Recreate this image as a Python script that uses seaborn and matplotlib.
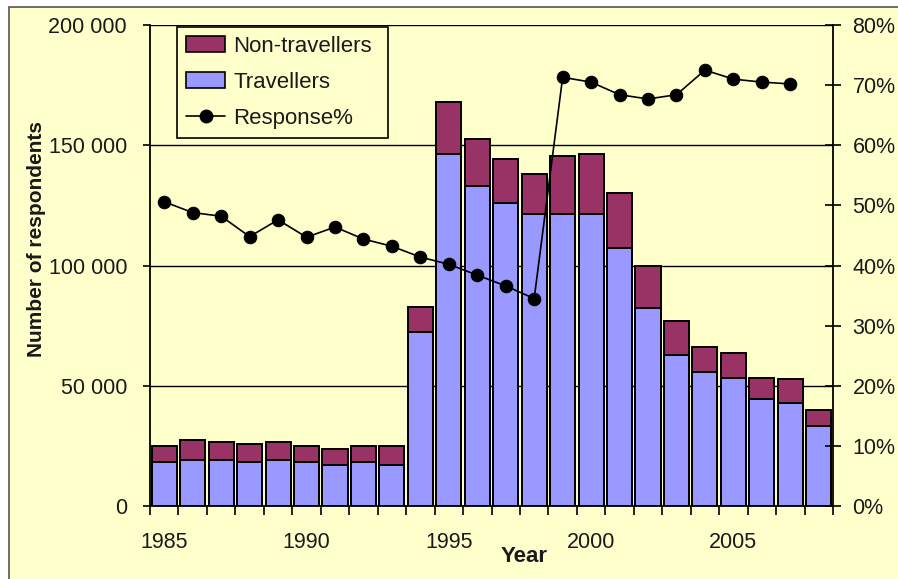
import numpy as np
import pandas as pd
import matplotlib
matplotlib.use("Agg")
import matplotlib.pyplot as plt
from matplotlib.patches import Rectangle, Patch
from matplotlib.lines import Line2D
import seaborn as sns

years = list(range(1985, 2009))
travellers = [18400, 19100, 19100, 18400, 19100, 18400, 17000, 18400, 17000,
              72500, 146400, 133100, 125900, 121300, 121400, 121400, 107300,
              82200, 62900, 55600, 53100, 44400, 43000, 33300]
totals = [25100, 27400, 26700, 25900, 26700, 25100, 23700, 25100, 25100,
          82900, 167900, 152500, 144100, 138100, 145500, 146400, 130300,
          99800, 77100, 66000, 63500, 53100, 52700, 39900]
response_years = list(range(1985, 2008))
response_pct = [50.6, 48.8, 48.2, 44.8, 47.6, 44.7, 46.4, 44.4, 43.2, 41.4,
                40.2, 38.4, 36.6, 34.5, 71.3, 70.5, 68.4, 67.7, 68.4, 72.5,
                71.0, 70.5, 70.2]
left_ticks = [0, 50000, 100000, 150000, 200000]
left_tick_labels = ["0", "50 000", "100 000", "150 000", "200 000"]
right_ticks = [0, 10, 20, 30, 40, 50, 60, 70, 80]
right_tick_labels = ["0%", "10%", "20%", "30%", "40%", "50%", "60%", "70%", "80%"]
labelled_years = [1985, 1990, 1995, 2000, 2005]

BG = "#FFFFCC"
TRAV = "#9999FF"
NONTRAV = "#993366"
TXT = "#1a1a1a"
TICKFS = 15.5

sns.set_style("white")
plt.rcParams["font.family"] = ["Liberation Sans", "DejaVu Sans"]

fig = plt.figure(figsize=(8.98, 5.79), dpi=100)
fig.patch.set_facecolor("white")
fig.patches.append(Rectangle((9 / 898, -0.05), 1.1, (579 - 7) / 579 + 0.05,
                             transform=fig.transFigure, facecolor=BG,
                             edgecolor="#555555", linewidth=1.2, zorder=-10))

ax = fig.add_axes([150 / 898, 1 - 506 / 579, (833 - 150) / 898, (506 - 25) / 579])
ax.set_facecolor(BG)

df = pd.DataFrame({"year": [str(y) for y in years], "trav": travellers, "tot": totals})
order = [str(y) for y in years]
sns.barplot(data=df, x="year", y="tot", order=order, color=NONTRAV, width=0.88,
            edgecolor="black", linewidth=1.4, saturation=1, ax=ax, zorder=2)
sns.barplot(data=df, x="year", y="trav", order=order, color=TRAV, width=0.88,
            edgecolor="black", linewidth=1.4, saturation=1, ax=ax, zorder=3)

ax.set_xlim(-0.5, len(years) - 0.5)
ax.set_ylim(0, 200000)
ax.set_yticks(left_ticks)
ax.set_yticklabels(left_tick_labels)
ax.yaxis.grid(True, color="black", linewidth=1.0)
ax.set_axisbelow(True)

# x ticks: marks at category boundaries, labels at selected category centres
ax.set_xticks(np.arange(len(years) + 1) - 0.5)
ax.set_xticklabels([])
lab_pos = [years.index(y) for y in labelled_years]
ax.set_xticks(lab_pos, minor=True)
ax.set_xticklabels([str(y) for y in labelled_years], minor=True)
ax.tick_params(axis="x", which="major", length=6.5, width=1.2, color="black",
               direction="out", bottom=True)
ax.tick_params(axis="x", which="minor", length=0, pad=19, labelsize=TICKFS, labelcolor=TXT)
ax.tick_params(axis="y", length=5, width=1.2, color="black", direction="out",
               pad=11.5, labelsize=TICKFS, labelcolor=TXT, left=True)

for s in ["left", "bottom"]:
    ax.spines[s].set_color("black")
    ax.spines[s].set_linewidth(1.3)
ax.spines["top"].set_visible(False)
ax.spines["right"].set_visible(False)

ax.set_xlabel("Year", fontsize=16, fontweight="bold", color=TXT)
ax.xaxis.set_label_coords(0.548, -0.083)
ax.set_ylabel("Number of respondents", fontsize=15, fontweight="bold", color=TXT)
ax.yaxis.set_label_coords(-0.152, 0.555)

ax2 = ax.twinx()
rpos = [years.index(y) for y in response_years]
sns.lineplot(x=rpos, y=response_pct, ax=ax2, color="black", linewidth=1.2,
             marker="o", markersize=9, markeredgecolor="black", zorder=5)
ax2.set_ylim(0, 80)
ax2.set_xlim(-0.5, len(years) - 0.5)
ax2.set_yticks(right_ticks)
ax2.set_yticklabels(right_tick_labels)
ax2.tick_params(axis="y", length=12, width=1.2, color="black", direction="inout",
                pad=8, labelsize=TICKFS, labelcolor=TXT, right=True)
for s in ["left", "bottom", "top"]:
    ax2.spines[s].set_visible(False)
ax2.spines["right"].set_color("black")
ax2.spines["right"].set_linewidth(1.3)
ax2.set_ylabel("")

handles = [Patch(facecolor=NONTRAV, edgecolor="black", linewidth=1.2),
           Patch(facecolor=TRAV, edgecolor="black", linewidth=1.2),
           Line2D([], [], color="black", marker="o", markersize=9, linewidth=1.2)]
leg = ax2.legend(handles, ["Non-travellers", "Travellers", "Response%"],
                 loc="upper left", bbox_to_anchor=(0.040, 0.0, 0.309, 0.9965),
                 mode="expand",
                 fontsize=16, frameon=True, fancybox=False, framealpha=1,
                 facecolor=BG, edgecolor="black", borderpad=0.4,
                 labelspacing=0.68, handlelength=1.76, handleheight=0.75,
                 handletextpad=0.35, borderaxespad=0)
leg.get_frame().set_linewidth(1.2)
for t in leg.get_texts():
    t.set_color(TXT)

fig.savefig("out.png", dpi=100, facecolor=fig.get_facecolor())
